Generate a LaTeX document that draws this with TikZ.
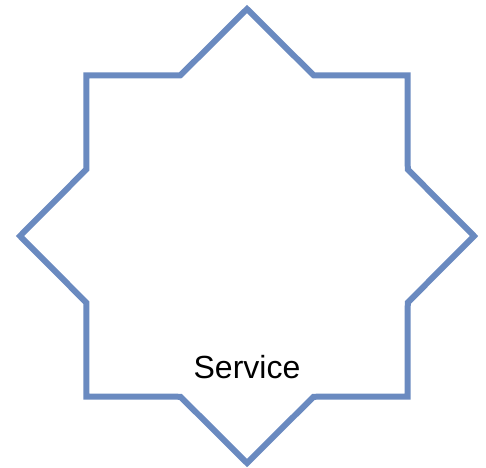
\documentclass[tikz,border=0pt]{standalone}
\usepackage{fontspec}
\setmainfont{Liberation Sans}
\usepackage{tikz}
\usetikzlibrary{positioning}
\definecolor{svcblue}{HTML}{6A8AC0}

\begin{document}
\begin{tikzpicture}[
    x=1pt, y=1pt,
    starline/.style={draw=svcblue, line width=6pt, miter limit=20},
    label/.style={font=\fontsize{32}{38}\selectfont, text=black, inner sep=0pt}
]
\useasboundingbox (0,0) rectangle (486,467);
\coordinate (centre) at (247,231);
% eight-pointed star
\begin{scope}[shift={(centre)}]
\draw[starline] (90:227) \foreach \k in {0,...,6} { -- ({112.5+45*\k}:174) -- ({135+45*\k}:227) } -- (427.5:174) -- cycle;
\end{scope}
\node[label, anchor=base] (service) at (247,89) {Service};
\end{tikzpicture}
\end{document}
